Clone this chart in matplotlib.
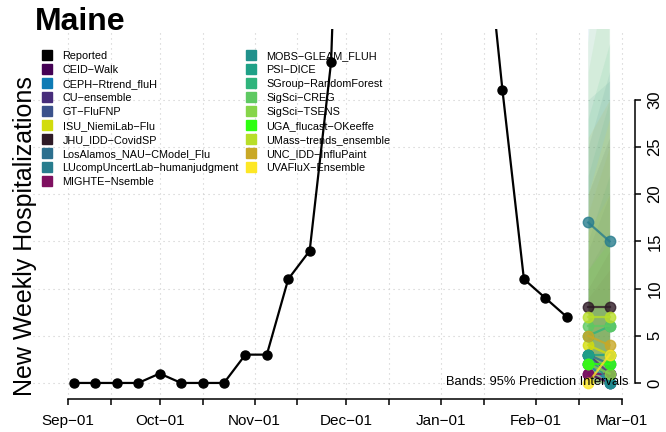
import numpy as np
import matplotlib
matplotlib.use("Agg")
import matplotlib.pyplot as plt
import matplotlib.dates as mdates
from matplotlib.lines import Line2D

plt.rcParams['font.family'] = ['Liberation Sans', 'DejaVu Sans']

# reported weekly hospitalizations (week ending Saturday)
rep_start = np.datetime64('2022-09-03')
rep_values = [0, 0, 0, 0, 1, 0, 0, 0, 3, 3, 11, 14, 34,
              100, 150, 175, 160, 130, 95, 53, 31, 11, 9, 7]

# forecast targets
fc_dates = ['2023-02-18', '2023-02-25']

models = ['CEID\u2212Walk', 'CEPH\u2212Rtrend_fluH', 'CU\u2212ensemble', 'GT\u2212FluFNP',
          'ISU_NiemiLab\u2212Flu', 'JHU_IDD\u2212CovidSP', 'LosAlamos_NAU\u2212CModel_Flu',
          'LUcompUncertLab\u2212humanjudgment', 'MIGHTE\u2212Nsemble', 'MOBS\u2212GLEAM_FLUH',
          'PSI\u2212DICE', 'SGroup\u2212RandomForest', 'SigSci\u2212CREG', 'SigSci\u2212TSENS',
          'UGA_flucast\u2212OKeeffe', 'UMass\u2212trends_ensemble', 'UNC_IDD\u2212InfluPaint',
          'UVAFluX\u2212Ensemble']
colors = ['#440154', '#0e7bb5', '#472d7b', '#3b528b', '#d2dc0c', '#2e1a26', '#2c6f8e',
          '#287d8e', '#7f1060', '#21918c', '#1fa187', '#2fb47c', '#5ec962', '#86d549',
          '#2dff10', '#b8de29', '#c9a826', '#fde725']
# median forecast (Feb 18, Feb 25)
med_1 = [1, 2, 3, 2, 4, 8, 3, 17, 1, 3, 3, 5, 6, 2, 2, 7, 5, 0]
med_2 = [0, 0, 1, 1, 3, 8, 2, 15, 1, 0, 3, 6, 6, 1, 2, 7, 4, 3]
# 95% interval (Feb 18, Feb 25)
lo_1 = [0, 0, 0, 0, 0, 1, 0, 5, 0, 0, 0, 1, 1, 0, 0, 1, 0, 0]
lo_2 = [0, 0, 0, 0, 0, 1, 0, 4, 0, 0, 0, 1, 1, 0, 0, 1, 0, 0]
hi_1 = [10, 55, 14, 12, 18, 20, 25, 30, 9, 22, 15, 28, 33, 36, 12, 16, 26, 20]
hi_2 = [14, 80, 20, 16, 25, 26, 33, 32, 12, 30, 22, 36, 45, 60, 15, 20, 30, 28]

month_ticks = ['2022-09-01', '2022-10-01', '2022-11-01', '2022-12-01',
               '2023-01-01', '2023-02-01', '2023-03-01']
month_labels = ['Sep\u221201', 'Oct\u221201', 'Nov\u221201', 'Dec\u221201',
                'Jan\u221201', 'Feb\u221201', 'Mar\u221201']
mid_ticks = ['2022-09-15', '2022-10-15', '2022-11-15', '2022-12-15',
             '2023-01-15', '2023-02-15']

rep_dates = rep_start + np.arange(len(rep_values)) * np.timedelta64(7, 'D')
rep_x = mdates.date2num(rep_dates)
fc_x = mdates.date2num(np.array(fc_dates, dtype='datetime64[D]'))
major_x = mdates.date2num(np.array(month_ticks, dtype='datetime64[D]'))
minor_x = mdates.date2num(np.array(mid_ticks, dtype='datetime64[D]'))

fig = plt.figure(figsize=(6.66, 4.32), dpi=100)
ax = fig.add_axes([33 / 666, 33 / 432, 602 / 666, 370 / 432])

sep1 = major_x[0]
ax.set_xlim(sep1 - 11.4, sep1 + 185.3)
ax.set_ylim(-1.7, 37.5)

# grid
for xv in np.concatenate([major_x, minor_x]):
    ax.axvline(xv, color='#cccccc', lw=0.8, ls=(0, (1, 3.5)), zorder=0)
for yv in range(0, 31, 5):
    ax.axhline(yv, color='#cccccc', lw=0.8, ls=(0, (1, 3.5)), zorder=0)

# prediction bands
for i in range(len(models)):
    ax.fill_between(fc_x, [lo_1[i], lo_2[i]], [hi_1[i], hi_2[i]],
                    color=colors[i], alpha=0.09, lw=0, zorder=1)

# reported
ax.plot(rep_x, rep_values, color='black', lw=1.6, marker='o', ms=6.5, zorder=3)

# forecast medians
for i in range(len(models)):
    ax.plot(fc_x, [med_1[i], med_2[i]], color=colors[i], lw=1.6, marker='o',
            ms=7.5, alpha=0.8, zorder=4)

# axes styling
for s in ['left', 'top']:
    ax.spines[s].set_visible(False)
ax.spines['bottom'].set_bounds(major_x[0], major_x[-1])
ax.spines['right'].set_bounds(0, 30)
ax.spines['bottom'].set_linewidth(1.1)
ax.spines['right'].set_linewidth(1.1)

ax.set_xticks(major_x)
ax.set_xticklabels(month_labels)
ax.set_xticks(minor_x, minor=True)
ax.tick_params(axis='x', which='both', length=4, width=1.1, direction='out')
ax.tick_params(axis='x', which='major', labelsize=11, pad=7)

ax.yaxis.tick_right()
ax.set_yticks(range(0, 31, 5))
ax.tick_params(axis='y', length=4, width=1.1, direction='out', labelsize=12,
               pad=5, labelrotation=90)
for lab in ax.get_yticklabels():
    lab.set_va('center')

# labels
fig.text(25 / 666, 1 - 236 / 432, 'New Weekly Hospitalizations', rotation=90,
         ha='center', va='center', fontsize=18)
fig.text(35 / 666, 1 - 30 / 432, 'Maine', fontsize=23, fontweight='bold',
         ha='left', va='baseline')
fig.text(628 / 666, 1 - 382 / 432, 'Bands: 95% Prediction Intervals',
         ha='right', va='center', fontsize=9.3, zorder=10)

# legend
handles = [Line2D([], [], marker='s', ls='', color='black', ms=6.5)]
labels = ['Reported']
for i in range(len(models)):
    handles.append(Line2D([], [], marker='s', ls='', color=colors[i], ms=6.5))
    labels.append(models[i])
leg = ax.legend(handles, labels, ncol=2, loc='upper left', frameon=False,
                fontsize=7.8, labelspacing=0.37, handlelength=1.0,
                handletextpad=0.9, columnspacing=0.6,
                bbox_to_anchor=(42 / 666, 1 - 51 / 432), bbox_transform=fig.transFigure,
                borderaxespad=0, borderpad=0)
leg.set_zorder(5)

fig.savefig('out.png', dpi=100)
